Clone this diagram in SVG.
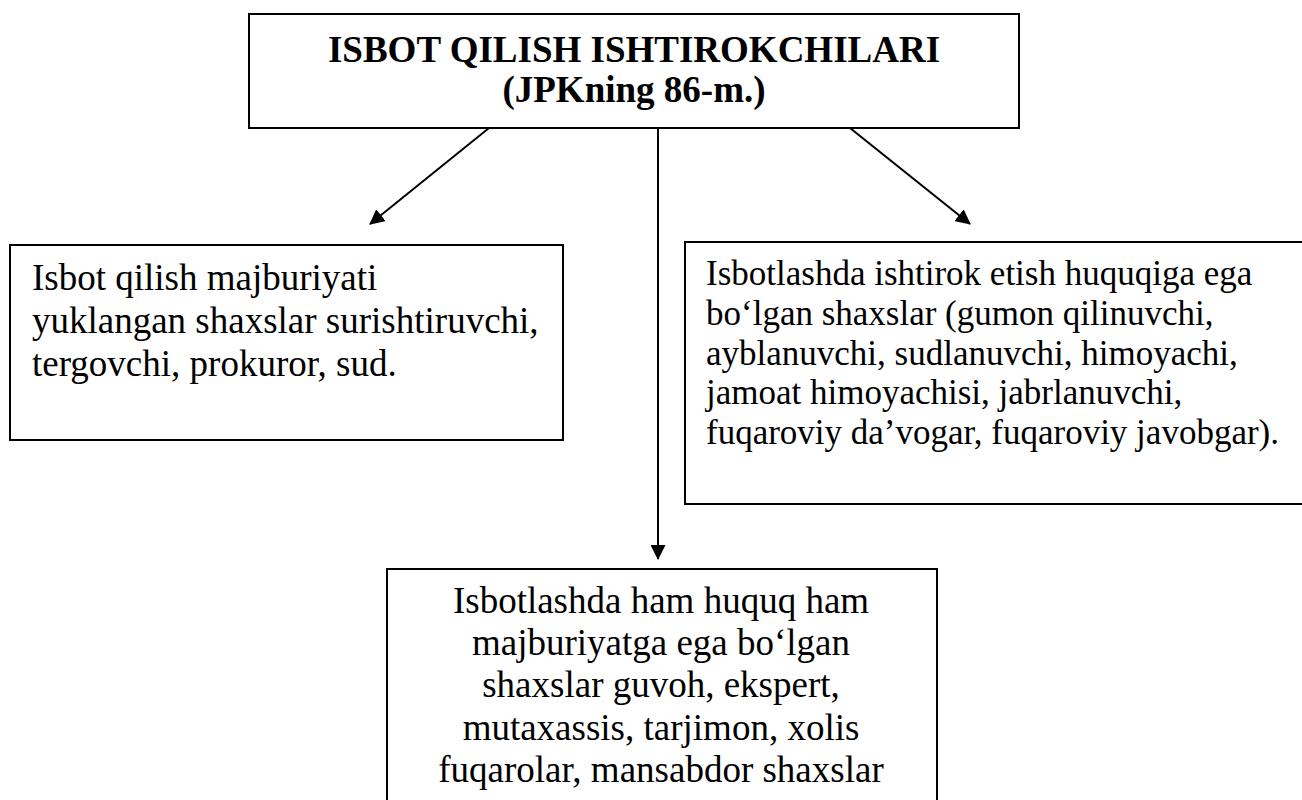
<svg xmlns="http://www.w3.org/2000/svg" width="1302" height="800" viewBox="0 0 1302 800">
<style>
.box{fill:#fff;stroke:#000;stroke-width:2}
.t{font-family:"Liberation Serif","Times New Roman",serif;font-size:37px;fill:#000}
.r{font-size:35px}
.h{font-family:"Liberation Serif","Times New Roman",serif;font-size:37px;font-weight:bold;fill:#000}
.c{stroke:#000;stroke-width:2;fill:none}
</style>
<defs>
<marker id="ah" markerWidth="15" markerHeight="15" refX="14" refY="7.5" orient="auto" markerUnits="userSpaceOnUse" viewBox="0 0 15 15">
<path d="M0,0 L15,7.5 L0,15 z" fill="#000"/>
</marker>
</defs>
<rect width="1302" height="800" fill="#fff"/>
<g id="connectors">
<line class="c" x1="489" y1="128" x2="370" y2="224" marker-end="url(#ah)"/>
<line class="c" x1="658" y1="128" x2="658" y2="559" marker-end="url(#ah)"/>
<line class="c" x1="850" y1="128" x2="970" y2="224" marker-end="url(#ah)"/>
</g>
<g id="top">
<rect class="box" x="249" y="14" width="770" height="114"/>
<text class="h" x="634" y="62" text-anchor="middle">ISBOT QILISH ISHTIROKCHILARI</text>
<text class="h" x="634" y="102" text-anchor="middle">(JPKning 86-m.)</text>
</g>
<g id="left">
<rect class="box" x="10" y="245" width="553" height="195"/>
<text class="t" x="32" y="290">Isbot qilish majburiyati</text>
<text class="t" x="32" y="333">yuklangan shaxslar surishtiruvchi,</text>
<text class="t" x="32" y="376">tergovchi, prokuror, sud.</text>
</g>
<g id="right">
<rect class="box" x="685" y="242" width="630" height="262"/>
<text class="t r" x="706" y="285">Isbotlashda ishtirok etish huquqiga ega</text>
<text class="t r" x="706" y="325">bo‘lgan shaxslar (gumon qilinuvchi,</text>
<text class="t r" x="706" y="365">ayblanuvchi, sudlanuvchi, himoyachi,</text>
<text class="t r" x="706" y="404">jamoat himoyachisi, jabrlanuvchi,</text>
<text class="t r" x="706" y="444">fuqaroviy da’vogar, fuqaroviy javobgar).</text>
</g>
<g id="bottom">
<rect class="box" x="387" y="569" width="550" height="250"/>
<text class="t" x="661" y="613" text-anchor="middle">Isbotlashda ham huquq ham</text>
<text class="t" x="661" y="655" text-anchor="middle">majburiyatga ega bo‘lgan</text>
<text class="t" x="661" y="697" text-anchor="middle">shaxslar guvoh, ekspert,</text>
<text class="t" x="661" y="740" text-anchor="middle">mutaxassis, tarjimon, xolis</text>
<text class="t" x="661" y="782" text-anchor="middle">fuqarolar, mansabdor shaxslar</text>
</g>
</svg>
